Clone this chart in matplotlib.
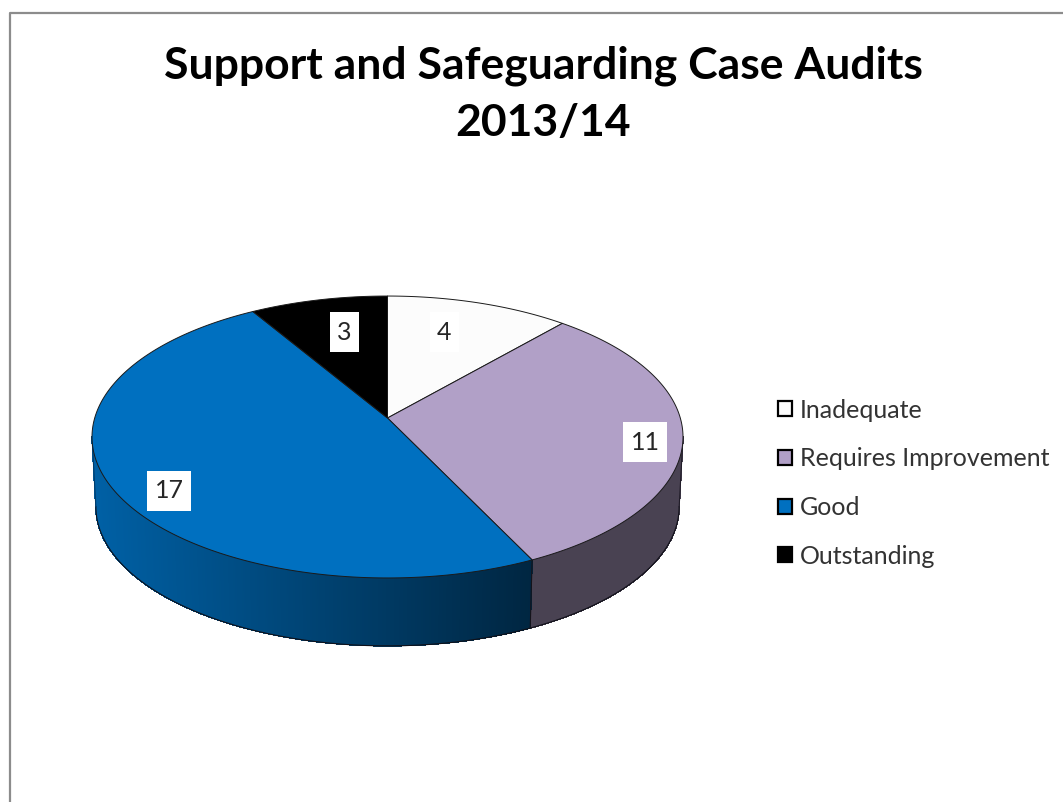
import numpy as np
import matplotlib
matplotlib.use('Agg')
import matplotlib.pyplot as plt
from matplotlib.patches import Patch, Polygon, Rectangle

categories = ['Inadequate', 'Requires Improvement', 'Good', 'Outstanding']
values = [4, 11, 17, 3]
colors = ['#FCFCFC', '#B1A0C7', '#0070C0', '#000000']
title_lines = ['Support and Safeguarding Case Audits', '2013/14']

plt.rcParams['font.family'] = ['Lato', 'DejaVu Sans']

W, H = 1063, 802
fig = plt.figure(figsize=(W / 100, H / 100), dpi=100)
ax = fig.add_axes([0, 0, 1, 1])
ax.set_xlim(0, W)
ax.set_ylim(H, 0)
ax.axis('off')

# perspective disc: apex of the slices, radii and tilt in pixels
CX, CY = 387.5, 418
RX, RY, TILT = 292.8, 138.4, 0.1348
DEPTH, SHRINK = 70, 0.987
# angle where the disc outline is widest, the wall starts and ends there
SIDE = 90 + np.degrees(np.arcsin(TILT))


def project(t):
    # angle in degrees, clockwise from the top
    u = np.sin(np.radians(t))
    v = np.cos(np.radians(t))
    d = 1 + TILT * v
    return CX + RX * u / d, CY - RY * v / d


def project_bottom(t):
    x, y = project(t)
    return CX + SHRINK * (x - CX), CY + SHRINK * (y - CY) + DEPTH


def wall_shade(i, x):
    # blue side darkens to the right, the purple side stays flat
    if i == 1:
        return 0.41
    return np.clip(0.34 + 0.52 * (531 - x) / 439, 0.34, 0.9)


edges = np.concatenate([[0], np.cumsum(values)]) / sum(values) * 360

# side wall, built from thin strips so the shading can run along it
for i in range(len(values)):
    a0, a1 = max(edges[i], SIDE), min(edges[i + 1], 360 - SIDE)
    if a1 <= a0:
        continue
    ts = np.linspace(a0, a1, int(a1 - a0) * 3 + 2)
    for t0, t1 in zip(ts[:-1], ts[1:]):
        x0, y0 = project(t0)
        x1, y1 = project(t1)
        x2, y2 = project_bottom(t1)
        x3, y3 = project_bottom(t0)
        rgb = np.array(matplotlib.colors.to_rgb(colors[i])) * wall_shade(i, 0.5 * (x0 + x1))
        ax.add_patch(Polygon([(x0, y0), (x1, y1), (x2, y2), (x3, y3)], closed=True,
                             fc=rgb, ec=rgb, lw=0.4, antialiased=False, zorder=2))

# outline of the wall: lower rim, the two sides and the slice boundary
ts = np.linspace(SIDE, 360 - SIDE, 300)
bx, by = project_bottom(ts)
ax.plot(bx, by, color='#101018', lw=0.8, zorder=3)
for t, c in [(SIDE, '#201c28'), (360 - SIDE, '#003c6a'), (edges[2], '#15131a')]:
    ax.plot([project(t)[0], project_bottom(t)[0]], [project(t)[1], project_bottom(t)[1]],
            color=c, lw=0.8, zorder=3)

# top face
for i in range(len(values)):
    ts = np.linspace(edges[i], edges[i + 1], 200)
    xs, ys = project(ts)
    pts = np.column_stack([np.r_[CX, xs], np.r_[CY, ys]])
    ax.add_patch(Polygon(pts, closed=True, fc=colors[i], ec='#1a1a1a', lw=0.7, zorder=4,
                         joinstyle='round'))

# value labels sit on white boxes
label_xy = [(444, 332), (645, 442), (169, 491), (344.5, 332)]
for (lx, ly), val in zip(label_xy, values):
    label = str(val)
    box_w = 15 * len(label) + 14
    ax.add_patch(Rectangle((lx - box_w / 2, ly - 20), box_w, 40, fc='white', ec='none', zorder=5))
    ax.text(lx, ly, label, ha='center', va='center', fontsize=18, color='#262626', zorder=6)

for line, y in zip(title_lines, [66, 123]):
    ax.text(543, y, line, ha='center', va='center', fontsize=32, fontweight='bold', color='black')

handles = [Patch(fc=c, ec='black', lw=1.6) for c in colors]
ax.legend(handles, categories, loc='upper left', bbox_to_anchor=(778 / W, 1 - 398.5 / H), frameon=False,
          fontsize=18, labelcolor='#333333', handlelength=0.54, handleheight=0.54, handletextpad=0.34,
          labelspacing=1.03, borderpad=0, borderaxespad=0)

# chart frame, cropped on the right and at the bottom
ax.plot([9.5, 9.5, W], [H, 12.5, 12.5], color='#8c8c8c', lw=1.6, zorder=1)

fig.savefig('out.png', dpi=100)
